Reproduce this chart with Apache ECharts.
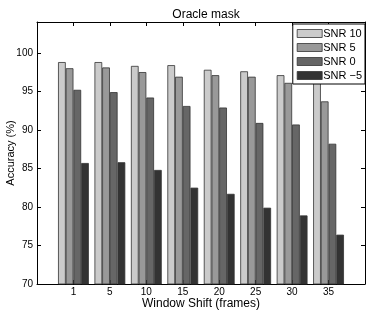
<!DOCTYPE html>
<html>
<head>
<meta charset="utf-8">
<script src="https://cdn.jsdelivr.net/npm/echarts@6/dist/echarts.min.js"></script>
<style>html,body{margin:0;padding:0;background:#fff}#c{width:374px;height:312px}</style>
</head>
<body>
<div id="c"></div>
<script>
var categories = ['1', '5', '10', '15', '20', '25', '30', '35'];
var seriesNames = ['SNR 10', 'SNR 5', 'SNR 0', 'SNR \u22125'];
var snr10 = [98.8, 98.8, 98.3, 98.4, 97.8, 97.6, 97.1, 96.2];
var snr5 = [98.0, 98.1, 97.5, 96.9, 97.1, 96.9, 96.1, 93.7];
var snr0 = [95.2, 94.9, 94.2, 93.1, 92.9, 90.9, 90.7, 88.2];
var snrm5 = [85.7, 85.8, 84.8, 82.5, 81.7, 79.9, 78.9, 76.4];
var yTicks = [70, 75, 80, 85, 90, 95, 100];
var colors = ['#cbcbcb', '#999999', '#666666', '#333333'];

var font = 'Liberation Sans, Arial, Helvetica, sans-serif';
var values = [snr10, snr5, snr0, snrm5];

function toData(arr) {
  return arr.map(function (v, i) { return [i + 1, v]; });
}

var chart = echarts.init(document.getElementById('c'), null, {renderer: 'canvas'});
var axisLine = {show: true, onZero: false, lineStyle: {color: '#000', width: 1}};
var tick = {show: true, inside: true, length: 4, lineStyle: {color: '#000', width: 1}};

var option = {
  animation: false,
  backgroundColor: '#fff',
  title: {
    text: 'Oracle mask', left: 201, top: 4, textAlign: 'center',
    textStyle: {fontFamily: font, fontSize: 12, fontWeight: 'normal', color: '#000'}
  },
  legend: {
    right: 9, top: 24, orient: 'vertical',
    itemWidth: 25, itemHeight: 8, itemGap: 3,
    padding: [4, 3, 3, 4],
    backgroundColor: '#fff', borderColor: '#000', borderWidth: 1,
    textStyle: {fontFamily: font, fontSize: 11, color: '#000', padding: [0, 0, 0, -4]},
    icon: 'rect',
    itemStyle: {borderColor: '#333', borderWidth: 0.8},
    data: seriesNames
  },
  grid: {left: 37, right: 9, top: 22, bottom: 28, containLabel: false, outerBoundsMode: 'none'},
  xAxis: [{
    type: 'value', min: 0, max: 9, interval: 1, position: 'bottom',
    axisLine: axisLine, axisTick: tick, splitLine: {show: false},
    axisLabel: {
      fontFamily: font, fontSize: 10, color: '#000', margin: 3,
      formatter: function (v) { return (v >= 1 && v <= categories.length) ? categories[v - 1] : ''; }
    },
    name: 'Window Shift (frames)', nameLocation: 'middle', nameGap: 14, nameMoveOverlap: false,
    nameTextStyle: {fontFamily: font, fontSize: 12, color: '#000', verticalAlign: 'top'}
  }, {
    type: 'value', min: 0, max: 9, interval: 1, position: 'top',
    axisLine: axisLine, axisTick: tick, splitLine: {show: false}, axisLabel: {show: false}
  }],
  yAxis: [{
    type: 'value', min: 70, max: 104, interval: 5, position: 'left',
    axisLine: axisLine, axisTick: tick, splitLine: {show: false},
    axisLabel: {
      fontFamily: font, fontSize: 10, color: '#000', margin: 4,
      formatter: function (v) { return yTicks.indexOf(v) >= 0 ? String(v) : ''; }
    },
    name: 'Accuracy (%)', nameLocation: 'middle', nameGap: 21, nameMoveOverlap: false,
    nameTextStyle: {fontFamily: font, fontSize: 11, color: '#000'}
  }, {
    type: 'value', min: 70, max: 104, interval: 5, position: 'right',
    axisLine: axisLine, axisTick: tick, splitLine: {show: false}, axisLabel: {show: false}
  }],
  series: values.map(function (arr, k) {
    return {
      name: seriesNames[k], type: 'bar', xAxisIndex: 0, yAxisIndex: 0,
      data: toData(arr), barWidth: 7.7, barGap: '0%',
      itemStyle: {color: colors[k], borderColor: '#333', borderWidth: 0.8}
    };
  })
};
chart.setOption(option);
</script>
</body>
</html>
